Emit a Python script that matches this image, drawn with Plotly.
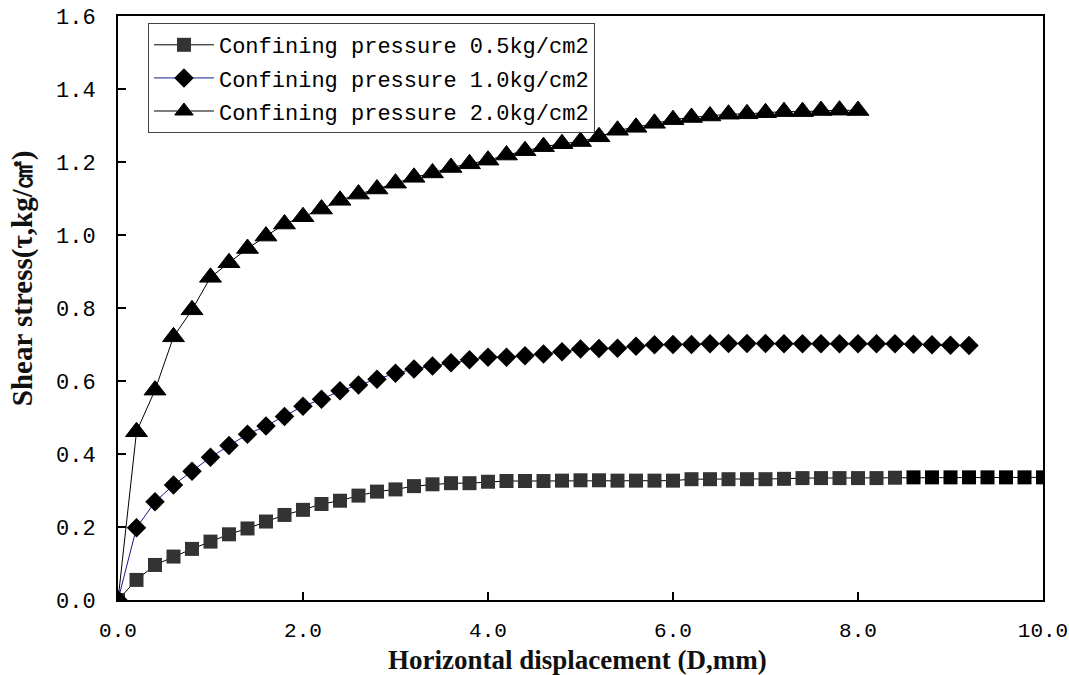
import plotly.graph_objects as go

# ---- data ----
x_05 = [round(i * 0.2, 1) for i in range(51)]
y_05 = [0.000, 0.055, 0.096, 0.119, 0.140, 0.160, 0.180, 0.196, 0.215, 0.233,
        0.247, 0.263, 0.272, 0.286, 0.297, 0.303, 0.312, 0.317, 0.320, 0.320,
        0.324, 0.326, 0.326, 0.326, 0.327, 0.328, 0.328, 0.327, 0.327, 0.327,
        0.327, 0.331, 0.331, 0.331, 0.331, 0.331, 0.332, 0.334, 0.334, 0.334,
        0.334, 0.334, 0.335, 0.336, 0.336, 0.336, 0.336, 0.336, 0.336, 0.336,
        0.336]

x_10 = [round(i * 0.2, 1) for i in range(47)]
y_10 = [0.000, 0.198, 0.269, 0.315, 0.353, 0.391, 0.423, 0.454, 0.477, 0.503,
        0.531, 0.550, 0.573, 0.589, 0.605, 0.621, 0.633, 0.641, 0.650, 0.658,
        0.665, 0.665, 0.669, 0.674, 0.680, 0.688, 0.689, 0.690, 0.695, 0.699,
        0.700, 0.700, 0.702, 0.703, 0.703, 0.703, 0.702, 0.702, 0.702, 0.702,
        0.702, 0.702, 0.702, 0.701, 0.699, 0.698, 0.697]

x_20 = [round(i * 0.2, 1) for i in range(41)]
y_20 = [0.000, 0.461, 0.575, 0.721, 0.795, 0.884, 0.924, 0.963, 0.997, 1.030,
        1.050, 1.071, 1.095, 1.112, 1.126, 1.142, 1.158, 1.170, 1.185, 1.195,
        1.205, 1.219, 1.231, 1.242, 1.250, 1.256, 1.269, 1.287, 1.295, 1.306,
        1.316, 1.322, 1.326, 1.331, 1.332, 1.335, 1.338, 1.338, 1.341, 1.342,
        1.341]

names = ["Confining pressure 0.5kg/cm2",
         "Confining pressure 1.0kg/cm2",
         "Confining pressure 2.0kg/cm2"]

x_ticks = [0, 2, 4, 6, 8, 10]
y_ticks = [0.0, 0.2, 0.4, 0.6, 0.8, 1.0, 1.2, 1.4, 1.6]

x_title = "Horizontal displacement (D,mm)"
y_title = "Shear stress(τ,kg/㎠)"

MONO = "Liberation Mono"
SERIF = "Liberation Serif"

sq_colors = ["#000000" if v >= 8.6 else "#333333" for v in x_05]

fig = go.Figure()
fig.add_trace(go.Scatter(
    x=x_05, y=y_05, name=names[0], mode="lines+markers", legendgroup="a",
    line=dict(color="black", width=1),
    marker=dict(symbol="square", size=14, color=sq_colors)))
fig.add_trace(go.Scatter(
    x=x_10, y=y_10, name=names[1], mode="lines+markers", legendgroup="b",
    line=dict(color="#1a1a8c", width=1),
    marker=dict(symbol="diamond", size=15, color="black")))
fig.add_trace(go.Scatter(
    x=x_20, y=y_20, name=names[2], mode="lines+markers", legendgroup="c",
    line=dict(color="black", width=1),
    marker=dict(symbol="triangle-up", size=19, color="black",
                line=dict(color="black", width=1))))

fig.update_layout(
    template="none",
    width=1069, height=675,
    margin=dict(l=118, r=26, t=16, b=75, autoexpand=False),
    paper_bgcolor="white", plot_bgcolor="white",
    font=dict(family=MONO, size=21, color="black"),
    showlegend=True,
    legend=dict(x=0.0324, y=0.988, xanchor="left", yanchor="top",
                bgcolor="white", bordercolor="#444444", borderwidth=1,
                font=dict(family=MONO, size=22, color="black"),
                itemwidth=60, tracegroupgap=1.5, traceorder="grouped"),
    annotations=[
        dict(text="<b>" + x_title + "</b>", xref="paper", yref="paper",
             x=0.497, y=-0.103, xanchor="center", yanchor="middle",
             showarrow=False, font=dict(family=SERIF, size=27, color="#111111")),
        dict(text="<b>" + y_title + "</b>", xref="paper", yref="paper",
             x=-0.1038, y=0.551, xanchor="center", yanchor="middle",
             textangle=-90, showarrow=False,
             font=dict(family=SERIF, size=29, color="#111111")),
    ],
)

fig.update_xaxes(range=[0, 10], tickvals=x_ticks, tickformat=".1f",
                 showline=True, mirror=True, linecolor="black", linewidth=2,
                 ticks="inside", ticklen=8, tickwidth=2, tickcolor="black",
                 showgrid=False, zeroline=False, ticklabelstandoff=10,
                 automargin=False, ticklabeloverflow="allow",
                 tickfont=dict(family=MONO, size=21, color="black"))
fig.update_yaxes(range=[0, 1.6], tickvals=y_ticks, tickformat=".1f",
                 showline=True, mirror=True, linecolor="black", linewidth=2,
                 ticks="inside", ticklen=8, tickwidth=2, tickcolor="black",
                 showgrid=False, zeroline=False, ticklabelstandoff=16,
                 automargin=False, ticklabeloverflow="allow",
                 tickfont=dict(family=MONO, size=22, color="black"))

fig.write_html("out.html")
